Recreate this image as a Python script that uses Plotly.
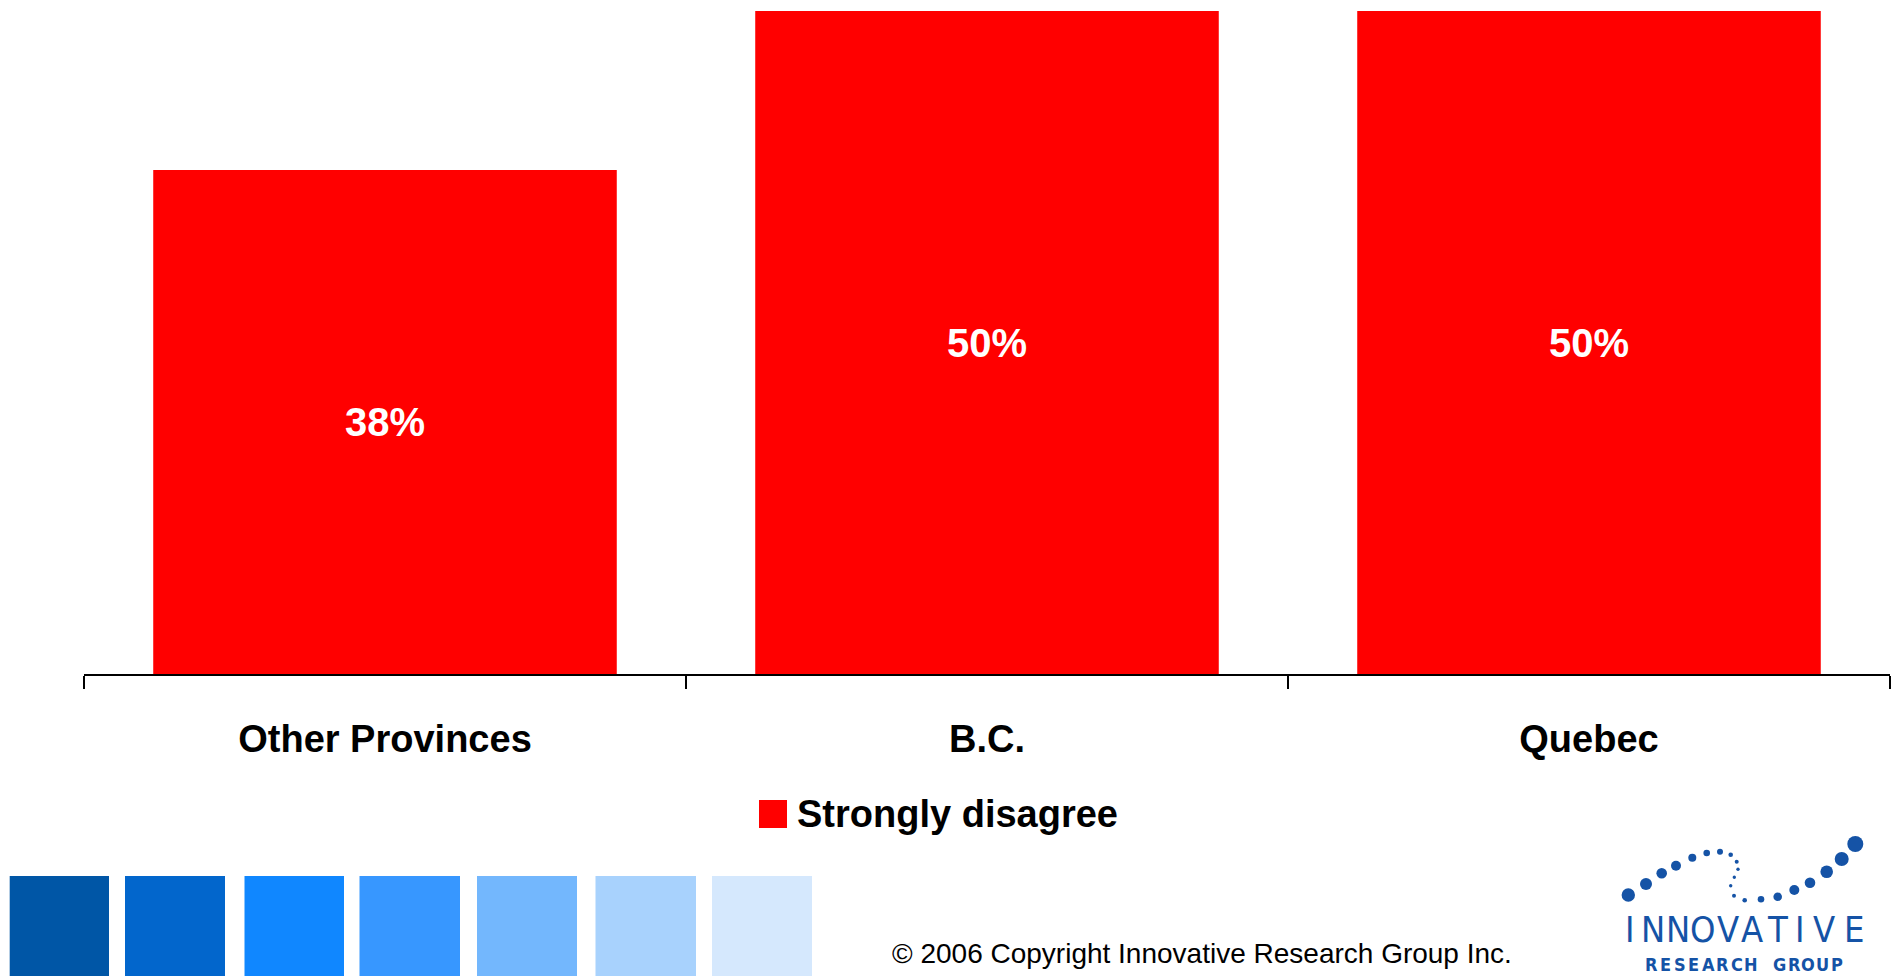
import plotly.graph_objects as go

# ---- data ----
categories = ["Other Provinces", "B.C.", "Quebec"]
values = [38, 50, 50]
series_name = "Strongly disagree"
copyright_text = "© 2006 Copyright Innovative Research Group Inc."
swatch_colors = ["#0056A6", "#0266CC", "#1087FF", "#3797FF", "#73B7FD", "#A8D2FD", "#D5E8FD"]

W, H = 1898, 976
L, R, T, B = 84, 1890, 11, 674
FONT = "Liberation Sans, Arial, Helvetica, sans-serif"
NARROW = "Liberation Sans Narrow, Arial Narrow, DejaVu Sans Condensed, sans-serif"
LOGO_BLUE = "#1553A6"


def px(x):
    return (x - L) / (R - L)


def py(y):
    return (B - y) / (B - T)


fig = go.Figure()
fig.add_trace(go.Bar(
    x=categories, y=values, name=series_name,
    marker=dict(color="#FF0000", line=dict(width=0)),
    texttemplate="%{y}%", textposition="inside", insidetextanchor="middle",
    textangle=0, constraintext="none",
    textfont=dict(color="white", size=40, family=FONT, weight="bold"),
    showlegend=False, hoverinfo="skip",
))

shapes = []
annotations = []

# legend (manual, to get the large square)
shapes.append(dict(type="rect", xref="paper", yref="paper",
                   x0=px(759), x1=px(787), y0=py(828), y1=py(800),
                   fillcolor="#FF0000", line=dict(width=0)))
annotations.append(dict(text=series_name, xref="paper", yref="paper",
                        x=px(795), y=py(814), xanchor="left", yanchor="middle",
                        showarrow=False, font=dict(size=38, color="black", family=FONT, weight="bold")))

# colour swatches along the bottom
sw_x = [(9.7, 109), (125, 225), (244.5, 344), (359.5, 460), (477, 577), (595.5, 696), (712, 812)]
for (a, b), c in zip(sw_x, swatch_colors):
    shapes.append(dict(type="rect", xref="paper", yref="paper",
                       x0=px(a), x1=px(b), y0=py(976), y1=py(876),
                       fillcolor=c, line=dict(width=0), layer="above"))

# copyright
annotations.append(dict(text=copyright_text, xref="paper", yref="paper",
                        x=px(1202), y=py(953), xanchor="center", yanchor="middle",
                        showarrow=False, font=dict(size=28, color="black", family=FONT)))

# logo dots
dots = [(1628.3, 895, 6.7), (1646, 884, 6), (1661.7, 873.3, 5.3), (1676, 865.7, 5),
        (1692.3, 857.7, 4), (1706.7, 853, 3.3), (1720, 851.7, 3), (1730.7, 854.7, 2.3),
        (1736.7, 861.7, 2), (1738, 869.3, 1.7), (1734.3, 877.3, 1.7), (1730.7, 885.7, 1.7),
        (1734, 895.7, 2), (1744.7, 900.3, 2.3), (1761, 899.3, 3.3), (1777.7, 896.7, 4.3),
        (1794.3, 890, 5), (1810, 882.7, 5.3), (1826.7, 871.7, 6.3), (1841.7, 859, 7),
        (1855.3, 844, 8)]
for cx, cy, r in dots:
    shapes.append(dict(type="circle", xref="paper", yref="paper",
                       x0=px(cx - r), x1=px(cx + r), y0=py(cy + r), y1=py(cy - r),
                       fillcolor=LOGO_BLUE, line=dict(width=0)))

logo_top_x = [1630, 1653, 1678, 1703, 1728, 1752, 1777, 1800, 1824, 1854]
for ch, x in zip("INNOVATIVE", logo_top_x):
    annotations.append(dict(text=ch, xref="paper", yref="paper",
                            x=px(x), y=py(929), xanchor="center", yanchor="middle",
                            showarrow=False, font=dict(size=36, color=LOGO_BLUE, family=NARROW)))
for i, ch in enumerate("RESEARCH GROUP"):
    if ch == " ":
        continue
    annotations.append(dict(text=ch, xref="paper", yref="paper",
                            x=px(1651 + i * 14.3), y=py(964), xanchor="center", yanchor="middle",
                            showarrow=False, font=dict(size=18, color=LOGO_BLUE, family=NARROW, weight="bold")))

fig.update_layout(
    width=W, height=H, autosize=False,
    margin=dict(l=L, r=W - R, t=T, b=H - B, pad=0),
    paper_bgcolor="white", plot_bgcolor="white",
    bargap=0.23,
    font=dict(family=FONT, color="black"),
    xaxis=dict(type="category", showline=True, linecolor="black", linewidth=2,
               ticks="outside", tickson="boundaries", ticklen=13, tickwidth=2, tickcolor="black",
               ticklabelstandoff=30,
               tickfont=dict(size=38, color="black", family=FONT, weight="bold"),
               showgrid=False, zeroline=False, fixedrange=True),
    yaxis=dict(range=[0, 50], visible=False, showgrid=False, zeroline=False, fixedrange=True),
    shapes=shapes, annotations=annotations,
    showlegend=False,
)

fig.write_html("out.html", config={"displayModeBar": False},
               post_script="document.body.style.margin='0';document.body.style.overflow='hidden';")
